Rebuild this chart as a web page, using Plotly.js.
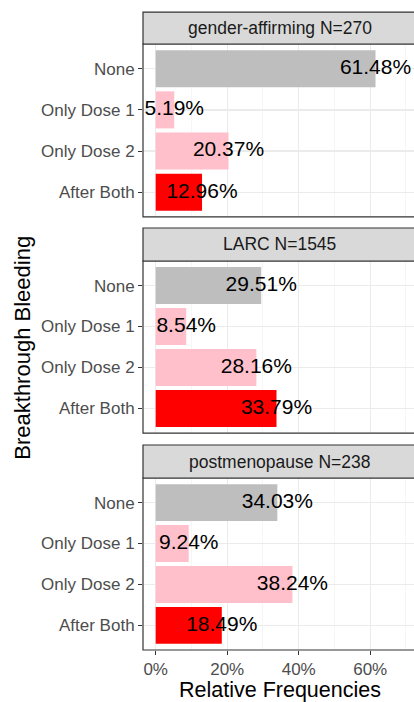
<!DOCTYPE html>
<html>
<head>
<meta charset="utf-8">
<script src="https://cdn.plot.ly/plotly-3.0.1.min.js"></script>
<style>
  html, body { margin: 0; padding: 0; background: #ffffff; }
  #chart { width: 414px; height: 702px; }
</style>
</head>
<body>
<div id="chart"></div>
<script>
// ---- data ----
const categories = ['None', 'Only Dose 1', 'Only Dose 2', 'After Both'];
const groupNames = ['gender-affirming N=270', 'LARC N=1545', 'postmenopause N=238'];
const genderAffirming = [61.48, 5.19, 20.37, 12.96];
const larc = [29.51, 8.54, 28.16, 33.79];
const postmenopause = [34.03, 9.24, 38.24, 18.49];
const barColors = ['#BEBEBE', '#FFC0CB', '#FFC0CB', '#FF0000'];
const xTickVals = [0, 20, 40, 60];
const xTickText = ['0%', '20%', '40%', '60%'];

const seriesList = [genderAffirming, larc, postmenopause];

// ---- layout geometry (paper fractions) ----
const FONT = 'Liberation Sans, Arial, sans-serif';
const panelDomains = [[0.6662, 0.9323], [0.3338, 0.5985], [0.0, 0.2646]];
const stripDomains = [[0.9323, 0.9815], [0.5985, 0.6492], [0.2646, 0.3154]];
const xRange = [-3.55, 72.25];

const traces = [];
seriesList.forEach((vals, i) => {
  const xa = i === 0 ? 'x' : 'x' + (i + 1);
  const ya = i === 0 ? 'y' : 'y' + (i + 1);
  traces.push({
    type: 'bar',
    orientation: 'h',
    x: vals,
    y: categories,
    xaxis: xa, yaxis: ya,
    width: 0.9,
    marker: { color: barColors, line: { width: 0 } },
    hoverinfo: 'skip',
    showlegend: false
  });
  traces.push({
    type: 'scatter',
    mode: 'text',
    x: vals,
    y: categories,
    xaxis: xa, yaxis: ya,
    text: vals.map(v => v.toFixed(2) + '%'),
    textposition: 'middle center',
    textfont: { family: FONT, size: 21, color: '#000000' },
    cliponaxis: false,
    hoverinfo: 'skip',
    showlegend: false
  });
});

const layout = {
  width: 414,
  height: 702,
  margin: { l: 143, r: 0, t: 0, b: 52 },
  paper_bgcolor: '#ffffff',
  plot_bgcolor: '#ffffff',
  font: { family: FONT },
  showlegend: false,
  shapes: [],
  annotations: []
};

for (let i = 0; i < 3; i++) {
  const sfx = i === 0 ? '' : String(i + 1);
  const isBottom = i === 2;
  layout['xaxis' + sfx] = {
    domain: [0, 1],
    anchor: 'y' + sfx,
    range: xRange,
    fixedrange: true,
    zeroline: false,
    showline: false,
    tickmode: 'array',
    tickvals: xTickVals,
    ticktext: xTickText,
    showticklabels: isBottom,
    ticks: isBottom ? 'outside' : '',
    ticklen: 4,
    tickwidth: 1,
    tickcolor: '#333333',
    tickfont: { family: FONT, size: 17, color: '#4D4D4D' },
    showgrid: true,
    gridcolor: '#EBEBEB',
    gridwidth: 1.3,
    minor: { tickmode: 'linear', tick0: 10, dtick: 20, showgrid: true, gridcolor: '#F4F4F4', gridwidth: 0.8 }
  };
  layout['yaxis' + sfx] = {
    domain: panelDomains[i],
    anchor: 'x' + sfx,
    type: 'category',
    categoryorder: 'array',
    categoryarray: categories,
    range: [3.6, -0.6],
    fixedrange: true,
    zeroline: false,
    showline: false,
    ticks: 'outside',
    ticklen: 4,
    tickwidth: 1,
    tickcolor: '#333333',
    tickfont: { family: FONT, size: 17, color: '#4D4D4D' },
    showgrid: true,
    gridcolor: '#EBEBEB',
    gridwidth: 1.3
  };
  // panel border (right side runs off the picture)
  layout.shapes.push({
    type: 'rect', xref: 'paper', yref: 'paper', layer: 'above',
    x0: 0, x1: 1.05, y0: panelDomains[i][0], y1: panelDomains[i][1],
    line: { color: '#333333', width: 1.2 }, fillcolor: 'rgba(0,0,0,0)'
  });
  // strip
  layout.shapes.push({
    type: 'rect', xref: 'paper', yref: 'paper', layer: 'above',
    x0: 0, x1: 1.05, y0: stripDomains[i][0], y1: stripDomains[i][1],
    line: { color: '#333333', width: 1.2 }, fillcolor: '#D9D9D9'
  });
  layout.annotations.push({
    xref: 'paper', yref: 'paper',
    x: 0.5055, y: (stripDomains[i][0] + stripDomains[i][1]) / 2,
    xanchor: 'center', yanchor: 'middle',
    text: groupNames[i], showarrow: false,
    font: { family: FONT, size: 17.5, color: '#1A1A1A' }
  });
}

// axis titles
layout.annotations.push({
  xref: 'paper', yref: 'paper',
  x: 0.507, y: -0.0615, xanchor: 'center', yanchor: 'middle',
  text: 'Relative Frequencies', showarrow: false,
  font: { family: FONT, size: 21.5, color: '#000000' }
});
layout.annotations.push({
  xref: 'paper', yref: 'paper',
  x: -0.443, y: 0.465, xanchor: 'center', yanchor: 'middle',
  text: 'Breakthrough Bleeding', textangle: -90, showarrow: false,
  font: { family: FONT, size: 22, color: '#000000' }
});

Plotly.newPlot('chart', traces, layout, { displayModeBar: false, staticPlot: true });
</script>
</body>
</html>
